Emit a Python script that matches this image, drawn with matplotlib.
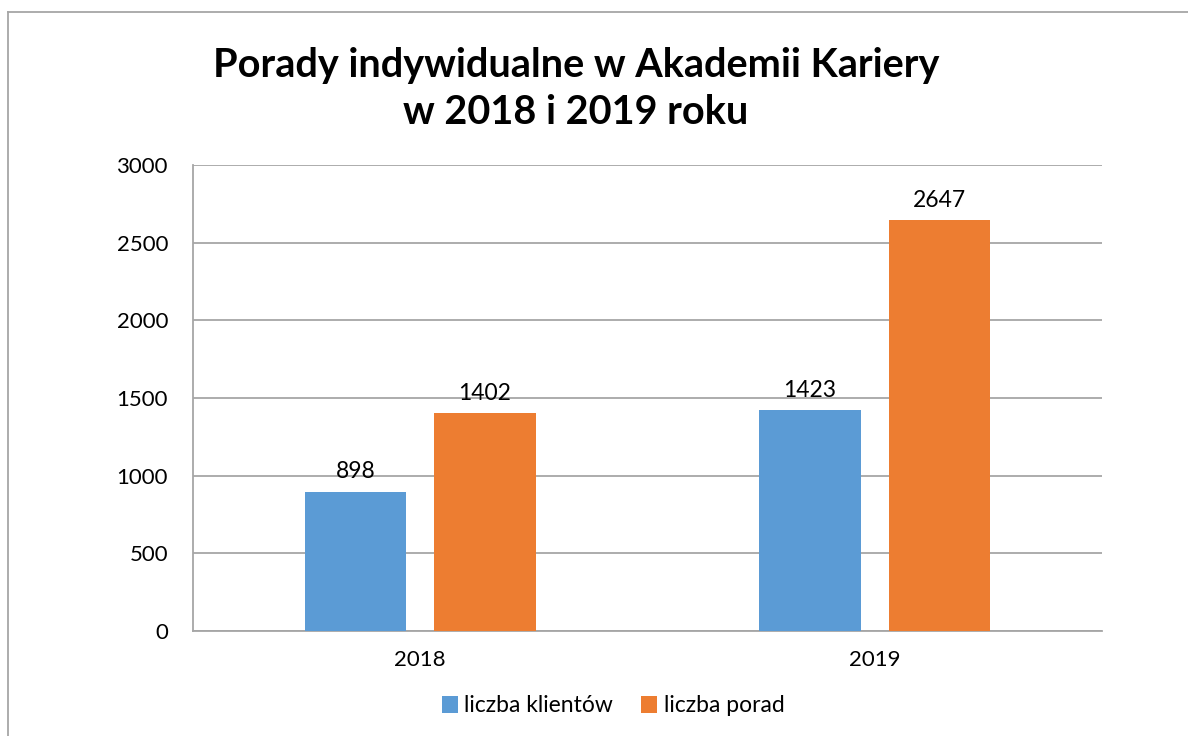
import matplotlib
matplotlib.use("Agg")
import matplotlib.pyplot as plt
import numpy as np
from matplotlib.lines import Line2D

categories = ["2018", "2019"]
series_names = ["liczba klientów", "liczba porad"]
klienci = [898, 1423]
porady = [1402, 2647]
yticks = [0, 500, 1000, 1500, 2000, 2500, 3000]

plt.rcParams['font.family'] = ['Lato', 'DejaVu Sans']

fig = plt.figure(figsize=(11.88, 7.36), dpi=100)
ax = fig.add_axes([193/1188, 1-631/736, (1102-193)/1188, (631-165)/736])

blue = "#5B9BD5"
orange = "#ED7D31"
x = np.arange(len(categories))
w = 0.224
off = 0.1425
b1 = ax.bar(x - off, klienci, w, color=blue, label=series_names[0], zorder=3)
b2 = ax.bar(x + off, porady, w, color=orange, label=series_names[1], zorder=3)

for bars, vals in ((b1, klienci), (b2, porady)):
    for r, v in zip(bars, vals):
        ax.text(r.get_x() + r.get_width()/2, v + 60, str(v), ha='center', va='bottom',
                fontsize=16.5, color='#000000')

ax.set_xlim(-0.5, 1.5)
ax.set_ylim(0, 3000)
ax.set_yticks(yticks)
ax.set_yticklabels([str(t) for t in yticks], fontsize=16)
ax.set_xticks(x)
ax.set_xticklabels(categories, fontsize=16)
ax.tick_params(axis='both', length=0)
ax.tick_params(axis='y', pad=18)
ax.tick_params(axis='x', pad=14)
ax.grid(axis='y', color='#A6A6A6', linewidth=1.3, zorder=0)
for s in ['top', 'right']:
    ax.spines[s].set_visible(False)
ax.spines['left'].set_color('#A6A6A6')
ax.spines['left'].set_linewidth(1.3)
ax.spines['bottom'].set_color('#A6A6A6')
ax.spines['bottom'].set_linewidth(1.3)

fig.text(576/1188, 1-65/736, "Porady indywidualne w Akademii Kariery", ha='center', va='center',
         fontsize=28.5, fontweight='bold')
fig.text(576/1188, 1-113/736, "w 2018 i 2019 roku", ha='center', va='center',
         fontsize=28.5, fontweight='bold')

leg = fig.legend(handles=[b1, b2], labels=series_names, loc='center', bbox_to_anchor=(613/1188, 1-706/736),
                 ncol=2, frameon=False, fontsize=16.5, handlelength=0.7, handleheight=0.7,
                 handletextpad=0.3, columnspacing=1.2)

# chart frame: left and top edges only
fig.add_artist(Line2D([8/1188, 8/1188], [0, 1-12/736], transform=fig.transFigure,
                      color='#A6A6A6', linewidth=1.3))
fig.add_artist(Line2D([8/1188, 1], [1-12/736, 1-12/736], transform=fig.transFigure,
                      color='#A6A6A6', linewidth=1.3))

fig.savefig("out.png", dpi=100)
